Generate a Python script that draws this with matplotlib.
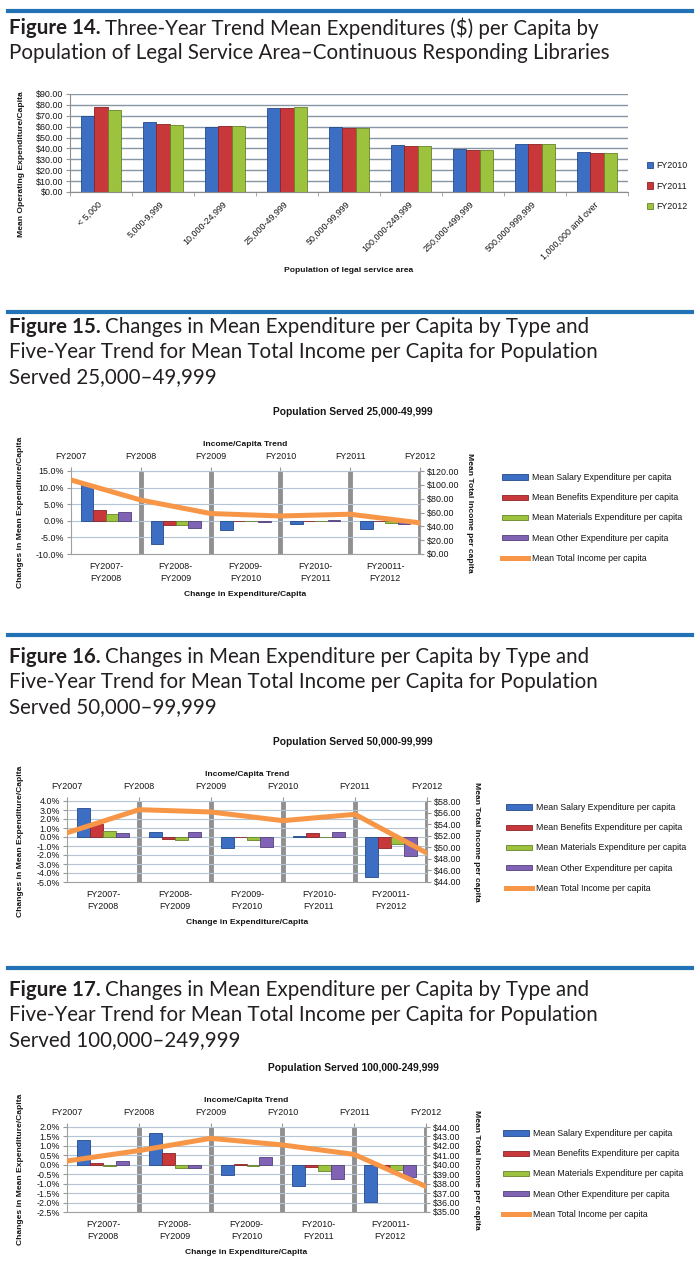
import numpy as np
import matplotlib
matplotlib.use('Agg')
import matplotlib.pyplot as plt
from matplotlib import font_manager
from matplotlib.lines import Line2D
from matplotlib.ticker import MultipleLocator, FuncFormatter

# Figure 14 data: mean operating expenditure per capita ($)
pop_areas = ['< 5,000', '5,000-9,999', '10,000-24,999', '25,000-49,999', '50,000-99,999',
             '100,000-249,999', '250,000-499,999', '500,000-999,999', '1,000,000 and over']
fy2010 = [69.5, 64.0, 60.0, 77.0, 59.5, 43.0, 39.5, 44.0, 37.0]
fy2011 = [78.5, 62.0, 60.5, 77.0, 59.0, 42.0, 38.5, 44.0, 36.0]
fy2012 = [75.5, 61.5, 61.0, 78.0, 59.0, 42.0, 38.5, 44.5, 36.0]

# Figures 15-17 data: % change in expenditure per capita, income per capita ($)
years = ['FY2007', 'FY2008', 'FY2009', 'FY2010', 'FY2011', 'FY2012']
periods = ['FY2007-\nFY2008', 'FY2008-\nFY2009', 'FY2009-\nFY2010', 'FY2010-\nFY2011', 'FY20011-\nFY2012']
series_names = ['Mean Salary Expenditure per capita', 'Mean Benefits Expenditure per capita',
                'Mean Materials Expenditure per capita', 'Mean Other Expenditure per capita']
income_name = 'Mean Total Income per capita'

salary_25k = [11.0, -7.0, -2.8, -1.1, -2.5]
benefits_25k = [3.2, -1.4, -0.1, -0.2, -0.2]
materials_25k = [2.1, -1.4, -0.1, -0.1, -0.7]
other_25k = [2.7, -2.1, -0.5, 0.2, -1.1]
income_25k = [107.0, 78.0, 58.5, 55.0, 57.5, 45.0]

salary_50k = [3.2, 0.6, -1.2, 0.15, -4.4]
benefits_50k = [1.4, -0.2, 0.05, 0.4, -1.2]
materials_50k = [0.7, -0.3, -0.35, 0.0, -0.8]
other_50k = [0.4, 0.55, -1.1, 0.55, -2.1]
income_50k = [52.5, 56.5, 56.1, 54.6, 55.7, 49.0]

salary_100k = [1.3, 1.7, -0.52, -1.1, -1.96]
benefits_100k = [0.1, 0.6, 0.05, -0.14, -0.1]
materials_100k = [-0.07, -0.18, -0.04, -0.32, -0.27]
other_100k = [0.18, -0.18, 0.43, -0.77, -0.66]
income_100k = [40.4, 41.5, 42.8, 42.1, 41.1, 37.7]

installed = {f.name for f in font_manager.fontManager.ttflist}
chart_font = 'Liberation Sans' if 'Liberation Sans' in installed else 'DejaVu Sans'
title_font = 'Lato' if 'Lato' in installed else 'DejaVu Sans'

plt.rcParams['font.family'] = [chart_font, 'DejaVu Sans']
plt.rcParams['text.color'] = '#151515'
plt.rcParams['xtick.labelcolor'] = '#151515'
plt.rcParams['ytick.labelcolor'] = '#151515'
plt.rcParams['xtick.color'] = '#999999'
plt.rcParams['ytick.color'] = '#999999'

W, H = 700, 1269
def rect(l, t, r, b):
    return [l / W, 1 - b / H, (r - l) / W, (b - t) / H]
def fx(x):
    return x / W
def fy(y):
    return 1 - y / H

bar_colors = ['#3c6fc3', '#c8383b', '#9cc23e', '#8063b4']
edge_colors = ['#244a8a', '#8a2426', '#66832a', '#54407c']
orange = '#f79646'
tick_fs = 6.4
lab_fs = 6.1
leg_fs = 6.3
head_fs = 14.8

fig = plt.figure(figsize=(7, 12.69), dpi=100)
renderer = fig.canvas.get_renderer()


def fig_title(y, bold, lines):
    t = fig.text(fx(9), fy(y), bold, fontsize=head_fs, fontweight='bold', family=title_font,
                 va='center', color='#231f20')
    x1 = t.get_window_extent(renderer).x1
    fig.text((x1 + 4) / W, fy(y), lines[0], fontsize=head_fs, family=title_font, va='center', color='#231f20')
    for i, line in enumerate(lines[1:], 1):
        fig.text(fx(9), fy(y + 25 * i), line, fontsize=head_fs, family=title_font, va='center', color='#231f20')


def separator(y):
    fig.add_artist(Line2D([fx(8), fx(692)], [fy(y), fy(y)], color='#2372b5', lw=3))


# ---- Figure 14 ----
separator(11)
fig_title(28, 'Figure 14.', ['Three-Year Trend Mean Expenditures ($) per Capita by',
                             'Population of Legal Service Area\u2013Continuous Responding Libraries'])

ax = fig.add_axes(rect(70, 94, 628, 192))
x = np.arange(len(pop_areas))
w = 0.215
bars14 = []
for i, vals in enumerate([fy2010, fy2011, fy2012]):
    bars14.append(ax.bar(x + (i - 1) * w, vals, w, color=bar_colors[i], edgecolor=edge_colors[i], lw=0.6))
ax.set_xlim(-0.5, len(pop_areas) - 0.5)
ax.set_ylim(0, 90)
ax.yaxis.set_major_locator(MultipleLocator(10))
ax.yaxis.set_major_formatter(FuncFormatter(lambda v, p: f'${v:.2f}'))
ax.grid(axis='y', color='#8796a5', lw=1)
ax.set_axisbelow(True)
ax.set_xticks(x)
ax.set_xticklabels(pop_areas, rotation=45, ha='right', va='center', rotation_mode='anchor')
ax.set_xticks(np.arange(len(pop_areas) + 1) - 0.5, minor=True)
ax.tick_params(axis='x', which='major', length=0, pad=8, labelsize=tick_fs)
ax.tick_params(axis='x', which='minor', length=3)
ax.tick_params(axis='y', length=3, pad=2, labelsize=tick_fs)
for s in ['top', 'right']:
    ax.spines[s].set_visible(False)
for s in ['left', 'bottom']:
    ax.spines[s].set_color('#8c8c8c')
fig.text(fx(22), fy(164), 'Mean Operating Expenditure/Capita', rotation=90, fontsize=lab_fs,
         fontweight='bold', ha='center', va='center')
fig.text(fx(349), fy(271), 'Population of legal service area', fontsize=lab_fs, fontweight='bold',
         ha='center', va='center')
ax.legend(bars14, ['FY2010', 'FY2011', 'FY2012'], loc='center left',
          bbox_to_anchor=(fx(647), fy(186)), bbox_transform=fig.transFigure, frameon=False,
          fontsize=tick_fs, handlelength=0.7, handleheight=0.7, handletextpad=0.3,
          labelspacing=1.3, borderpad=0, borderaxespad=0)


# ---- Figures 15-17 ----
def change_panel(l, t, r, b, changes, income, pct_lim, pct_step, inc_lim, inc_step, title, leg_x):
    ax = fig.add_axes(rect(l, t, r, b))
    x = np.arange(len(periods))
    w = 0.18
    handles = []
    for i, vals in enumerate(changes):
        handles.append(ax.bar(x + (i - 1.5) * w, vals, w, color=bar_colors[i],
                              edgecolor=edge_colors[i], lw=0.6))
    ax.set_xlim(-0.5, len(periods) - 0.5)
    ax.set_ylim(pct_lim)
    ax.yaxis.set_major_locator(MultipleLocator(pct_step))
    ax.yaxis.set_major_formatter(FuncFormatter(lambda v, p: f'{v:.1f}%'))
    ax.grid(axis='y', color='#b4c4d4', lw=0.8)
    ax.set_xticks(x)
    ax.set_xticklabels(periods, linespacing=1.35)
    ax.set_xticks(np.arange(1, len(periods) + 1) - 0.5, minor=True)
    ax.grid(axis='x', which='minor', color='#909090', lw=3.5)
    ax.set_axisbelow(True)
    ax.tick_params(axis='x', which='both', length=0, pad=6, labelsize=tick_fs)
    ax.tick_params(axis='y', length=3, pad=2, labelsize=tick_fs)
    for s in ax.spines.values():
        s.set_color('#a0a0a0')
    ax.spines['top'].set_visible(False)

    top = ax.secondary_xaxis('top')
    top.set_xticks(np.arange(len(years)) - 0.5, labels=years)
    top.tick_params(length=3, pad=4, labelsize=tick_fs)
    top.spines['top'].set_color('#b4c4d4')

    ax2 = ax.twinx()
    line, = ax2.plot(np.arange(len(years)) - 0.5, income, color=orange, lw=3.6,
                     solid_joinstyle='round')
    ax2.set_ylim(inc_lim)
    ax2.yaxis.set_major_locator(MultipleLocator(inc_step))
    ax2.yaxis.set_major_formatter(FuncFormatter(lambda v, p: f'${v:.2f}'))
    ax2.tick_params(axis='y', length=3, pad=2, labelsize=tick_fs)
    for s in ax2.spines.values():
        s.set_visible(False)

    cx = (l + r) / 2
    fig.text(fx(353), fy(t - 59), title, fontsize=7.4, fontweight='bold', ha='center', va='center')
    fig.text(fx(cx), fy(t - 27), 'Income/Capita Trend', fontsize=lab_fs, fontweight='bold',
             ha='center', va='center')
    fig.text(fx(cx), fy(b + 41), 'Change in Expenditure/Capita', fontsize=lab_fs, fontweight='bold',
             ha='center', va='center')
    fig.text(fx(21), fy((t + b) / 2), 'Changes in Mean Expenditure/Capita', rotation=90,
             fontsize=lab_fs, fontweight='bold', ha='center', va='center')
    fig.text(fx(r + 50), fy((t + b) / 2), 'Mean Total Income per capita', rotation=270,
             fontsize=lab_fs, fontweight='bold', ha='center', va='center')
    ax2.legend(handles + [line], series_names + [income_name], loc='center left',
               bbox_to_anchor=(fx(leg_x), fy(t + 47)), bbox_transform=fig.transFigure,
               frameon=False, fontsize=leg_fs, handlelength=3.0, handleheight=0.6,
               handletextpad=0.45, labelspacing=1.27, borderpad=0, borderaxespad=0)


separator(312)
fig_title(327, 'Figure 15.', ['Changes in Mean Expenditure per Capita by Type and',
                              'Five-Year Trend for Mean Total Income per Capita for Population',
                              'Served 25,000\u201349,999'])
change_panel(71, 471, 420, 554, [salary_25k, benefits_25k, materials_25k, other_25k], income_25k,
             (-10, 15), 5, (0, 120), 20, 'Population Served 25,000-49,999', 502)

separator(635)
fig_title(657, 'Figure 16.', ['Changes in Mean Expenditure per Capita by Type and',
                              'Five-Year Trend for Mean Total Income per Capita for Population',
                              'Served 50,000\u201399,999'])
change_panel(67, 801, 427, 882, [salary_50k, benefits_50k, materials_50k, other_50k], income_50k,
             (-5, 4), 1, (44, 58), 2, 'Population Served 50,000-99,999', 506)

separator(968)
fig_title(990, 'Figure 17.', ['Changes in Mean Expenditure per Capita by Type and',
                              'Five-Year Trend for Mean Total Income per Capita for Population',
                              'Served 100,000\u2013249,999'])
change_panel(67, 1127, 426, 1212, [salary_100k, benefits_100k, materials_100k, other_100k], income_100k,
             (-2.5, 2), 0.5, (35, 44), 1, 'Population Served 100,000-249,999', 503)

fig.savefig('out.png', dpi=100)
